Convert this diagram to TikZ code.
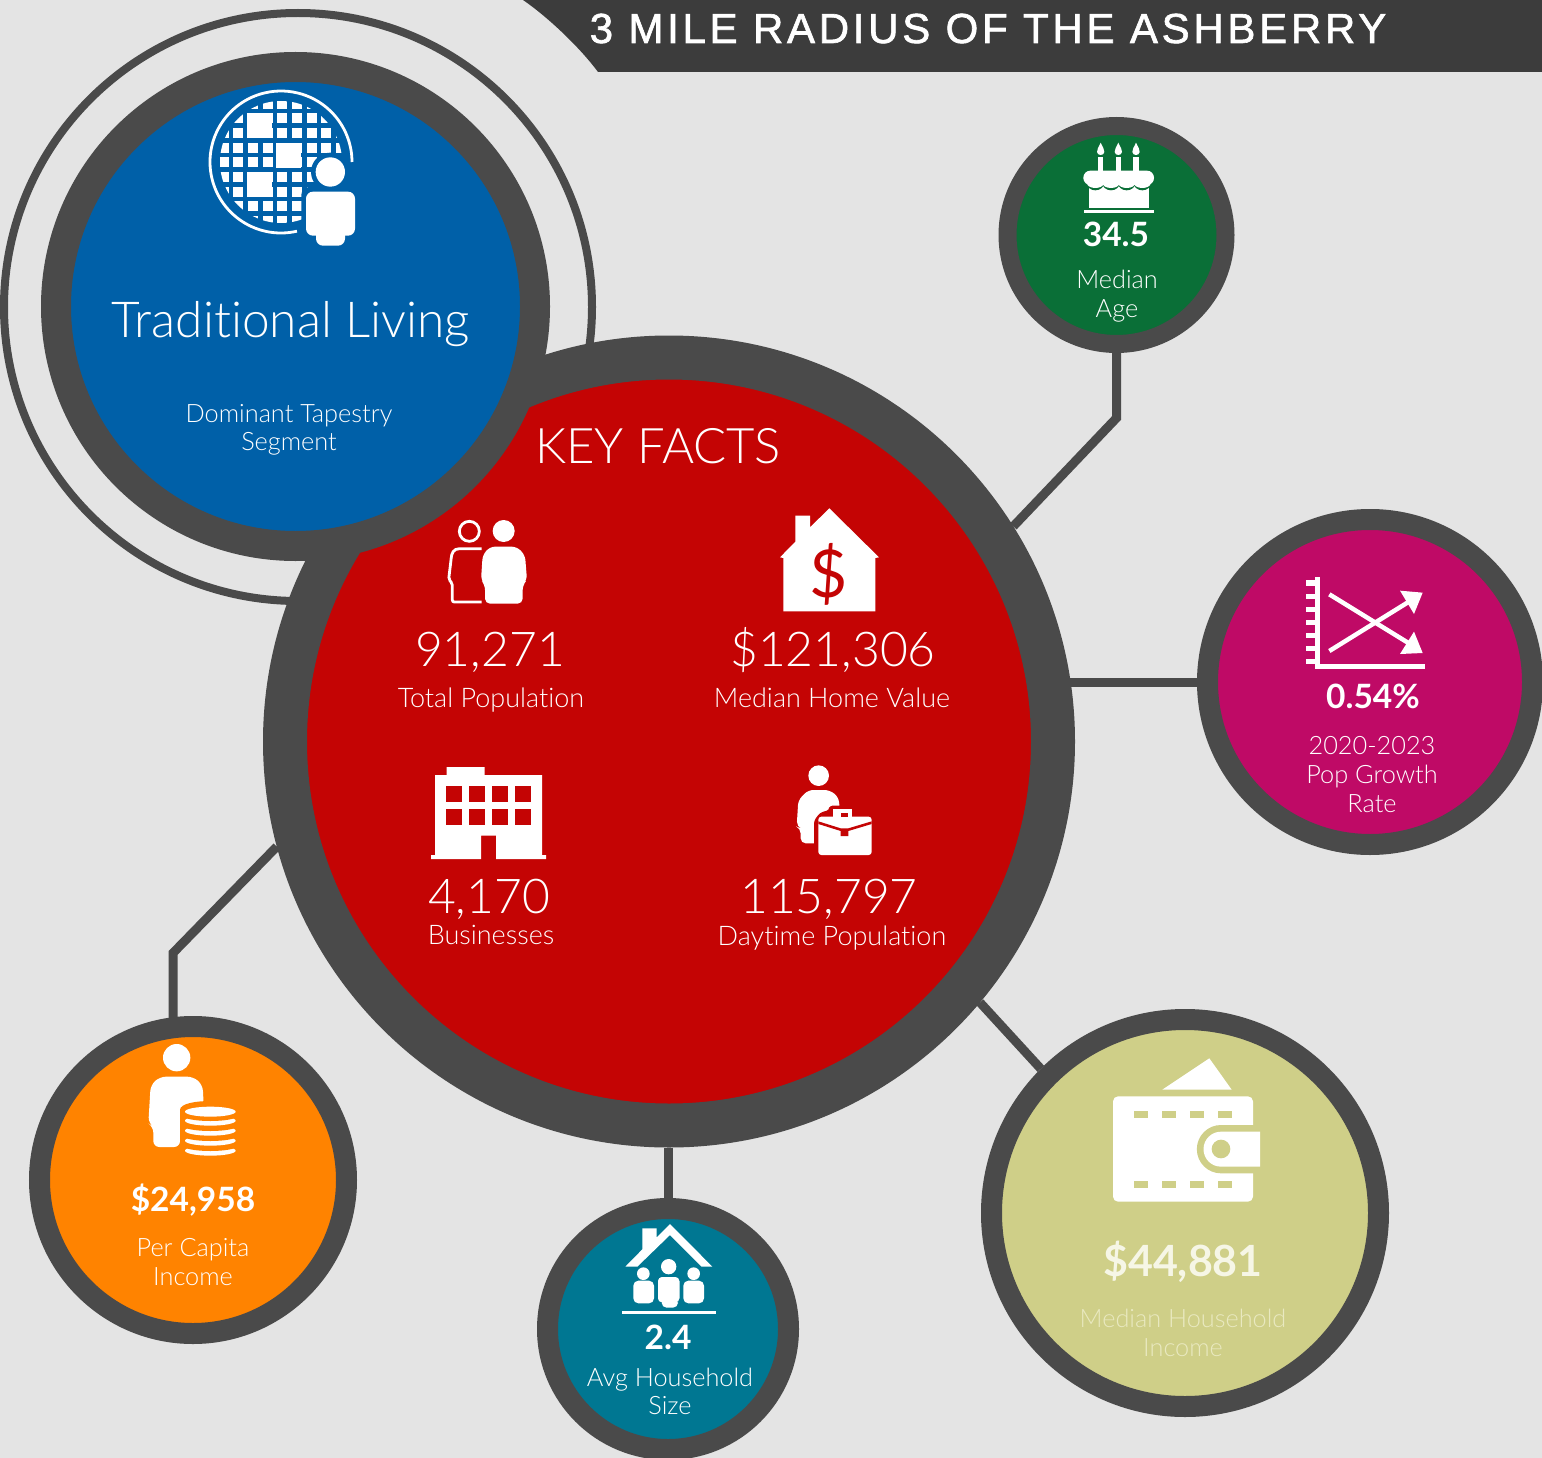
\documentclass[tikz,border=0pt]{standalone}
\usepackage{fontspec}
\setmainfont[Ligatures=NoCommon]{Lato Light}
\newfontfamily\titlefont[LetterSpace=8.85,FakeBold=1.5]{Liberation Sans}
\newfontfamily\numfont{Lato Light}
\newfontfamily\boldfont{Lato Bold}
\newfontfamily\dollarfont{Lato}
\definecolor{bgc}{HTML}{E4E4E4}
\definecolor{ringc}{HTML}{4A4A4A}
\definecolor{barc}{HTML}{3C3C3C}
\definecolor{redc}{HTML}{C40404}
\definecolor{bluec}{HTML}{0060A8}
\definecolor{greenc}{HTML}{0A6F37}
\definecolor{magc}{HTML}{BF0A66}
\definecolor{orangec}{HTML}{FF8300}
\definecolor{tealc}{HTML}{007792}
\definecolor{olivec}{HTML}{CFCF88}
\definecolor{faintc}{HTML}{E9E9C0}
\tikzset{
  disc/.style={circle,draw=ringc,inner sep=0pt},
  anchorcircle/.style={circle,inner sep=0pt,outer sep=0pt},
  link/.style={draw=ringc,line width=9pt},
  ink/.style={fill=white,draw=none},
  bignum/.style={anchor=base,text=white,inner sep=0pt,font=\numfont\fontsize{48}{50}\selectfont},
  headtxt/.style={anchor=base,text=white,inner sep=0pt},
  captxt/.style={anchor=base,text=white,inner sep=0pt,yshift=-1.5pt,font=\fontsize{27}{30}\selectfont},
  smalltxt/.style={anchor=base,text=white,inner sep=0pt,yshift=-1pt,font=\fontsize{25.3}{30}\selectfont},
  valtxt/.style={anchor=base,text=white,inner sep=0pt,yshift=-1pt,font=\boldfont\fontsize{33.5}{36}\selectfont},
  zoomed/.style={shift={#1},scale=1/3},
}
\begin{document}
\begin{tikzpicture}[x=1pt,y=-1pt]
\useasboundingbox (0,0) rectangle (1542,1458);
\fill[bgc] (0,0) rectangle (1542,1458);
% title bar
\fill[barc] (523,0) .. controls (545,15) and (578,45) .. (598,72) -- (1542,72) -- (1542,0) -- cycle;
\node[anchor=base,text=white,inner sep=0pt,font=\titlefont\fontsize{42}{46}\selectfont] (title) at (988,43) {3 MILE RADIUS OF THE ASHBERRY};
% thin ring
\draw[ringc,line width=8pt] (298,307) circle (294);
% invisible placement of connectors' ends
\path node[anchorcircle,minimum size=812pt] (main) at (669,741.5) {}
      node[anchorcircle,minimum size=236pt] (green) at (1116.5,235) {}
      node[anchorcircle,minimum size=346pt] (mag) at (1370,682) {}
      node[anchorcircle,minimum size=328pt] (orange) at (193,1180) {}
      node[anchorcircle,minimum size=262pt] (teal) at (668,1329) {}
      node[anchorcircle,minimum size=408pt] (olive) at (1185,1213) {};
% connectors
\coordinate (gbend) at (1116.5,418);
\coordinate (obend) at (173,953);
\draw[link] (green.south) -- (gbend) -- (main.32.6);
\draw[link] ([xshift=-10pt]mag.west -| main.east) -- (mag.west);
\draw[link] (main.-40.9) -- (olive.135);
\draw[link] (teal.north |- main.south) -- (teal.north);
\draw[link] (obend |- orange.north) ++(0,4) -- (obend) -- (main.195.1);
% discs
\node[disc,fill=redc,minimum size=768pt,line width=44pt] at (main) {};
\node[disc,fill=greenc,minimum size=218pt,line width=18pt] at (green) {};
\node[disc,fill=magc,minimum size=325pt,line width=21pt] at (mag) {};
\node[disc,fill=orangec,minimum size=307pt,line width=21pt] at (orange) {};
\node[disc,fill=tealc,minimum size=241pt,line width=21pt] at (teal) {};
\node[disc,fill=olivec,minimum size=387pt,line width=21pt] at (olive) {};
\node[disc,fill=bluec,minimum size=479pt,line width=30pt] (blue) at (295.5,306.5) {};
% Blue disc text
\node[headtxt,font=\fontsize{49.6}{52}\selectfont] (tl) at (291,337) {Traditional Living};
\node[smalltxt] (dom1) at (289,421) {Dominant Tapestry};
\node[smalltxt] (dom2) at (289,449) {Segment};
% Key facts
\node[headtxt,font=\fontsize{49}{52}\selectfont] (kf) at (658,463) {KEY FACTS};
\node[bignum] (n1) at (490,666) {91,271};
\node[captxt] (c1) at (491,706) {Total Population};
\node[bignum] (n2) at (833,666) {\$121,306};
\node[captxt] (c2) at (832,706) {Median Home Value};
\node[bignum] (n3) at (489,913) {4,170};
\node[captxt] (c3) at (491,943) {Businesses};
\node[bignum] (n4) at (829,913) {115,797};
\node[captxt] (c4) at (832,944) {Daytime Population};
% satellites text
\node[valtxt] (a1) at (1116,246) {34.5};
\node[smalltxt] (a2) at (1117,287) {Median};
\node[smalltxt] (a3) at (1117,316) {Age};
\node[valtxt] (p1) at (1373,707) {0.54\%};
\node[smalltxt] (p2) at (1372,753) {2020-2023};
\node[smalltxt] (p3) at (1372,782) {Pop Growth};
\node[smalltxt] (p4) at (1372,811) {Rate};
\node[valtxt] (i1) at (193,1210) {\$24,958};
\node[smalltxt] (i2) at (193,1255) {Per Capita};
\node[smalltxt] (i3) at (193,1284) {Income};
\node[valtxt] (h1) at (668,1348) {2.4};
\node[smalltxt] (h2) at (670,1385) {Avg Household};
\node[smalltxt] (h3) at (670,1413) {Size};
\node[valtxt,font=\boldfont\fontsize{43}{48}\selectfont,text=faintc!40!white] (m1) at (1183,1275) {\$44,881};
\node[smalltxt,text=faintc] (m2) at (1183,1326) {Median Household};
\node[smalltxt,text=faintc] (m3) at (1183,1355) {Income};
% Globe icon
\begin{scope}[zoomed={(190,80)}]
  \begin{scope}
    \clip (273,246) circle (183);
    \foreach \cx in {86,130,174,218,262,306,350,394,438}
      \foreach \cy in {56,100,144,188,232,276,320,364,408}
        \fill[white] (\cx,\cy) rectangle ++(30,30);
    \fill[white] (172,99) rectangle (246,174);
    \fill[white] (259,188) rectangle (334,263);
    \fill[white] (172,276) rectangle (246,351);
  \end{scope}
  \draw[white,line width=2.8pt] ([shift={(77:213)}]273,246) arc[start angle=77,end angle=360,radius=213];
  \fill[bluec] (421,276) circle (58);
  \fill[bluec,rounded corners=8pt] (334,321) rectangle (509,481);
  \fill[bluec,rounded corners=8pt] (364,440) rectangle (479,511);
  \fill[white] (421,276) circle (44);
  \fill[ink,rounded corners=7pt] (348,335) rectangle (495,467);
  \fill[ink,rounded corners=7pt] (378,440) rectangle (465,497);
\end{scope}
% Icons in key facts
\begin{scope}[zoomed={(420,500)}]
  % pair of people
  \draw[white,line width=2.8pt] (148,94) circle (30);
  \draw[white,line width=2.8pt,rounded corners=2pt] (185,146) -- (125,146) .. controls (100,146) and (95,160) .. (93,180) -- (86,238) -- (97,250) -- (97,306) -- (185,306);
  \fill[white] (251,93) circle (33);
  \fill[ink,rounded corners=5pt] (210,140) -- (290,140) -- (315,165) -- (321,240) -- (308,255) -- (308,311) -- (195,311) -- (195,255) -- (183,240) -- (188,165) -- cycle;
  % house
  \fill[ink] (1228,25) -- (1377,172) -- (1366,174) -- (1366,334) -- (1090,334) -- (1090,174) -- (1080,172) -- (1126,125) -- (1126,47) -- (1170,47) -- (1170,82) -- cycle;
  \node[text=redc,inner sep=0pt,font=\dollarfont\fontsize{66}{68}\selectfont] (dollar) at (1225,222) {\$};
  % building
  \fill[ink] (45,825) -- (80,825) -- (80,801) -- (194,801) -- (194,825) -- (366,825) -- (366,1065) -- (378,1065) -- (378,1077) -- (228,1077) -- (228,1007) -- (183,1007) -- (183,1077) -- (33,1077) -- (33,1065) -- (45,1065) -- cycle;
  \foreach \wx in {79,148,217,286}
    \foreach \wy in {858,927}
      \fill[redc] (\wx,\wy) rectangle ++(47,47);
  % worker and case
  \fill[white] (1196,827) circle (31);
  \fill[ink,rounded corners=5pt] (1165,870) -- (1228,870) -- (1255,890) -- (1260,930) -- (1260,1030) -- (1142,1030) -- (1142,985) -- (1130,980) -- (1135,900) -- cycle;
  \fill[redc,rounded corners=3pt] (1182,1040) -- (1182,962) -- (1200,938) -- (1228,930) -- (1228,917) -- (1300,917) -- (1300,1040) -- cycle;
  \fill[ink,rounded corners=3pt] (1195,950) rectangle (1355,1065);
  \fill[ink] (1240,928) rectangle (1297,958);
  \fill[redc] (1262,940) rectangle (1285,952);
  \fill[redc] (1195,964) -- (1262,985) -- (1285,985) -- (1355,964) -- (1355,972) -- (1285,993) -- (1285,1008) -- (1262,1008) -- (1262,993) -- (1195,972) -- cycle;
\end{scope}
% Cake
\begin{scope}[zoomed={(1060,130)}]
  \foreach \fx in {122,175,228} {
    \fill[ink] (\fx-8,82) rectangle (\fx+8,125);
    \fill[ink] (\fx,38) .. controls (\fx+6,52) and (\fx+12,58) .. (\fx+11,66) .. controls (\fx+10,78) and (\fx-10,78) .. (\fx-11,66) .. controls (\fx-12,58) and (\fx-6,52) .. (\fx,38) -- cycle;
  }
  \fill[ink] (86,168) rectangle (266,235);
  \foreach \bx in {106,153,200,247} {
    \fill[greenc] (\bx,157) ellipse (27 and 24);
  }
  \fill[greenc] (70,150) rectangle (86,182);
  \fill[greenc] (266,150) rectangle (282,182);
  \fill[ink,rounded corners=7pt] (70,122) rectangle (282,165);
  \foreach \bx in {106,153,200,247} {
    \fill[ink] (\bx,160) ellipse (25 and 14);
  }
  \fill[ink] (72,240) rectangle (282,248);
\end{scope}
% Chart
\begin{scope}[zoomed={(1290,565)}]
  \fill[ink] (76,36) rectangle (90,312);
  \fill[ink] (76,297) rectangle (405,312);
  \foreach \ty in {46,86,125,165,204,243,282}
    \fill[ink] (48,\ty) rectangle (76,\ty+16);
  \draw[white,line width=4.5pt] (118,258) -- (365,105);
  \draw[white,line width=4.5pt] (118,88) -- (365,240);
  \fill[ink] (330,77) -- (398,83) -- (372,147) -- cycle;
  \fill[ink] (372,200) -- (398,264) -- (330,267) -- cycle;
\end{scope}
% Coins person
\begin{scope}[zoomed={(130,1035)}]
  \fill[white] (140,68) circle (41);
  \fill[ink,rounded corners=6pt] (90,125) -- (190,125) -- (218,150) -- (222,230) -- (150,240) -- (150,336) -- (70,336) -- (70,275) -- (55,265) -- (62,150) -- cycle;
  \fill[orangec] (150,225) .. controls (150,205) and (200,198) .. (240,198) -- (330,198) -- (330,375) -- (150,375) -- cycle;
  \foreach \yc in {347,317,287,257} {
    \fill[ink] (241,\yc) ellipse (76 and 15);
    \fill[orangec] (241,\yc-14) ellipse (80 and 15);
  }
  \fill[ink] (241,230) ellipse (76 and 15);
\end{scope}
% Family house
\begin{scope}[zoomed={(610,1215)}]
  \fill[ink] (180,27) -- (307,155) -- (275,155) -- (180,60) -- (82,155) -- (46,155) -- (97,103) -- (97,40) -- (140,40) -- (140,67) -- cycle;
  \fill[white] (176,155) circle (23);
  \fill[white] (100,176) circle (19);
  \fill[white] (251,176) circle (19);
  \fill[ink,rounded corners=5pt] (70,197) rectangle (132,265);
  \fill[ink,rounded corners=5pt] (220,197) rectangle (282,265);
  \draw[tealc,line width=1.5pt,fill=white,rounded corners=5pt] (141,183) rectangle (211,265);
  \fill[ink,rounded corners=5pt] (155,250) rectangle (204,278);
  \fill[ink] (36,288) rectangle (318,297);
\end{scope}
% Wallet
\begin{scope}[zoomed={(1100,1050)}]
  \fill[ink] (187,119) -- (328,25) -- (395,119) -- cycle;
  \fill[ink,rounded corners=5pt] (39,139) rectangle (459,455);
  \foreach \sx in {102,186,270,354} {
    \fill[olivec] (\sx,183) rectangle ++(42,21);
    \fill[olivec] (\sx,393) rectangle ++(42,21);
  }
  \fill[olivec] (480,225) -- (363,225) arc[start angle=-90,end angle=-270,radius=72.5] -- (480,370) -- cycle;
  \fill[ink] (480,245) -- (363,245) arc[start angle=-90,end angle=-270,radius=52.5] -- (480,350) -- cycle;
  \fill[olivec] (363,297) circle (28);
\end{scope}
\end{tikzpicture}
\end{document}
